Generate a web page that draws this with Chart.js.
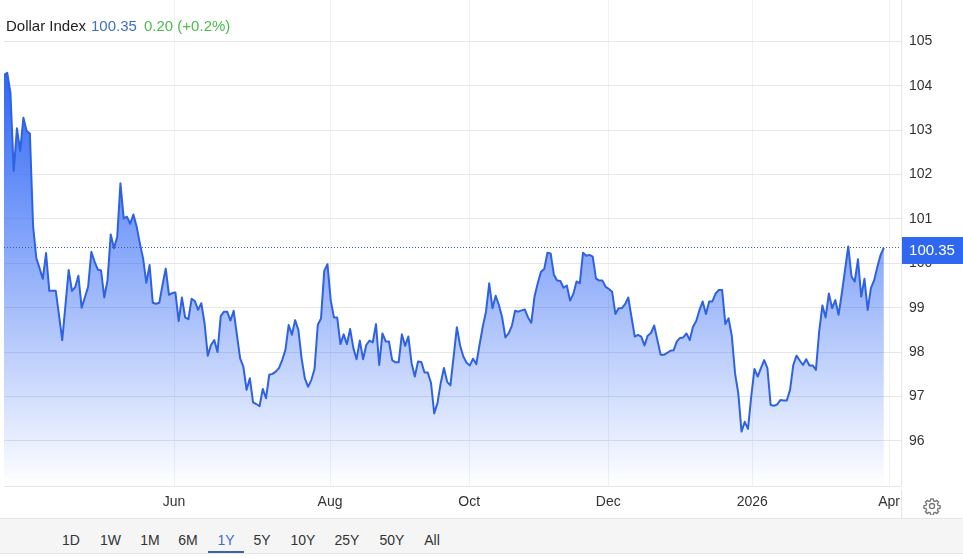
<!DOCTYPE html>
<html><head><meta charset="utf-8">
<script src="https://cdn.jsdelivr.net/npm/chart.js@4/dist/chart.umd.min.js"></script>
<style>
html,body{margin:0;padding:0;background:#fff;width:963px;height:558px;overflow:hidden;font-family:"Liberation Sans",Arial,sans-serif;color:#333}
#c{position:absolute;left:0;top:0}
.h{position:absolute;top:17px;font-size:15px;line-height:18px;white-space:nowrap}
#axisgap{position:absolute;left:901px;top:490px;width:30px;height:28px;background:#fff;border-left:1px solid #e6e6e6}
#bar{position:absolute;left:0;top:518px;width:963px;height:36px;background:#f5f5f5;border-top:1px solid #e6e6e6;border-bottom:1px solid #e6e6e6;box-sizing:border-box}
#bar span{position:absolute;top:12px;font-size:14px;line-height:18px;transform:translateX(-50%);color:#333}
#bar span.on{color:#3f6fc4}
#bar i{position:absolute;left:208px;top:32px;width:36px;height:2px;background:#3b62ad}
#gear{position:absolute;left:923px;top:497px}
</style></head><body>
<canvas id="c" width="963" height="558"></canvas>
<div class="h" style="left:6px;color:#222">Dollar Index</div>
<div class="h" style="left:91px;color:#3f6fc4">100.35</div>
<div class="h" style="left:144px;color:#4cbb4c">0.20 (+0.2%)</div>
<div id="axisgap"></div>
<div id="bar"></div>
<svg id="gear" width="18" height="18" viewBox="0 0 24 24" fill="none" stroke="#777" stroke-width="1.8"><circle cx="12" cy="12" r="3.4"/><path d="M10.3 2.5h3.4l.5 2.8 1.9.8 2.3-1.6 2.4 2.4-1.6 2.3.8 1.9 2.8.5v3.4l-2.8.5-.8 1.9 1.6 2.3-2.4 2.4-2.3-1.6-1.9.8-.5 2.8h-3.4l-.5-2.8-1.9-.8-2.3 1.6-2.4-2.4 1.6-2.3-.8-1.9-2.8-.5v-3.4l2.8-.5.8-1.9-1.6-2.3 2.4-2.4 2.3 1.6 1.9-.8z"/></svg>
<script>
const values = [
104.24,104.29,103.83,102.08,103.04,102.53,103.28,102.98,102.92,100.83,
100.11,99.89,99.65,100.23,99.38,99.38,99.38,98.84,98.27,99.06,
99.85,99.38,99.46,99.72,99.00,99.23,99.47,100.26,100.04,99.86,
99.84,99.23,99.62,100.65,100.34,100.60,101.80,101.01,101.05,100.89,
101.10,100.83,100.45,100.11,99.56,99.96,99.11,99.09,99.11,99.51,
99.88,99.29,99.33,99.34,98.70,99.23,98.78,98.74,99.20,99.15,
98.95,99.10,98.65,97.92,98.16,98.27,98.00,98.81,98.91,98.91,
98.71,98.93,98.39,97.86,97.67,97.15,97.41,96.87,96.83,96.78,
97.17,96.96,97.49,97.51,97.56,97.64,97.82,98.05,98.61,98.39,
98.72,98.50,97.86,97.41,97.22,97.37,97.62,98.61,98.76,99.83,
99.98,99.17,98.78,98.78,98.18,98.40,98.18,98.52,98.09,97.84,
98.26,97.84,98.16,98.26,98.22,98.63,97.71,98.42,98.24,98.24,
97.82,97.77,97.77,98.40,98.14,98.35,97.75,97.45,97.79,97.78,
97.54,97.54,97.31,96.62,96.85,97.30,97.64,97.33,97.25,97.90,
98.56,98.15,97.90,97.76,97.70,97.85,97.73,98.16,98.57,98.91,
99.55,98.99,99.27,99.06,98.78,98.33,98.42,98.59,98.93,98.91,
98.94,98.96,98.78,98.66,99.25,99.55,99.81,99.87,100.24,100.22,
99.74,99.61,99.60,99.45,99.50,99.16,99.31,99.59,99.55,100.24,
100.17,100.19,100.15,99.66,99.61,99.61,99.47,99.42,99.36,98.86,
98.99,98.99,99.08,99.23,98.78,98.35,98.39,98.35,98.15,98.37,
98.43,98.60,98.27,97.94,97.94,97.98,98.03,98.04,98.24,98.32,
98.33,98.42,98.27,98.57,98.70,98.95,99.14,98.86,99.14,99.14,
99.32,99.40,99.40,98.63,98.76,98.36,97.52,97.07,96.21,96.43,
96.27,97.00,97.62,97.45,97.64,97.82,97.64,96.81,96.79,96.82,
96.92,96.91,96.91,97.15,97.71,97.92,97.81,97.71,97.84,97.70,
97.70,97.60,98.46,99.05,98.78,99.32,98.99,99.17,98.84,99.32,
99.85,100.38,99.70,99.59,100.09,99.25,99.65,98.95,99.44,99.62,
99.92,100.19,100.35];
const lastValue = 100.35;
const priceTicks = [96,97,98,99,100,101,102,103,104,105];
const monthLabels = ["Jun","Aug","Oct","Dec","2026","Apr"];
const monthSessions = [52.56,100.8,143.8,186.8,231.3,273.6];
const rangeLabels = ["1D","1W","1M","6M","1Y","5Y","10Y","25Y","50Y","All"];
const rangeCentres = [71,110.5,150,188,226,262,303,347,392,432];
const selectedRange = "1Y";

const bar = document.getElementById('bar');
rangeLabels.forEach((t,i)=>{const s=document.createElement('span');s.textContent=t;s.style.left=rangeCentres[i]+'px';if(t===selectedRange)s.className='on';bar.appendChild(s);});
const u=document.createElement('i');bar.appendChild(u);

const lastPrice = {
  id:'lastPrice',
  afterDraw(chart){
    const {ctx,scales:{y},chartArea:a}=chart;
    const py=Math.round(y.getPixelForValue(lastValue))-0.5;
    ctx.save();
    ctx.strokeStyle='#3d6392';ctx.lineWidth=1;ctx.setLineDash([1,2]);
    ctx.beginPath();ctx.moveTo(a.left,py);ctx.lineTo(a.right,py);ctx.stroke();
    ctx.setLineDash([]);
    ctx.fillStyle='#2f67f0';
    ctx.fillRect(902,py-10.5,61,27);
    ctx.fillStyle='#fff';ctx.font='15px "Liberation Sans",Arial,sans-serif';
    ctx.textAlign='center';ctx.textBaseline='middle';
    ctx.fillText(lastValue.toFixed(2),932,py+3.5);
    ctx.restore();
  }
};
function noPad(s){s.paddingTop=0;s.paddingBottom=0;s.paddingLeft=0;s.paddingRight=0;}

new Chart(document.getElementById('c'),{
  type:'line',
  data:{datasets:[{
    data:values.map((v,i)=>({x:i,y:v})),
    borderColor:'#2f62e2',borderWidth:2,borderJoinStyle:'round',pointRadius:0,tension:0,fill:'start',
    backgroundColor(ctx){
      const a=ctx.chart.chartArea; if(!a) return 'rgba(47,103,245,.5)';
      const g=ctx.chart.ctx.createLinearGradient(0,73,0,a.bottom);
      g.addColorStop(0,'rgba(47,103,245,1)');
      g.addColorStop(1,'rgba(47,103,245,0)');
      return g;
    }
  }]},
  plugins:[lastPrice],
  options:{
    responsive:false,animation:false,devicePixelRatio:1,
    layout:{padding:{left:4,top:0,right:0,bottom:0}},
    plugins:{legend:{display:false},tooltip:{enabled:false},title:{display:false}},
    scales:{
      x:{type:'linear',min:0,max:277.3,
        afterFit(s){s.height=71.5;noPad(s);},
        afterBuildTicks(s){s.ticks=monthSessions.map(v=>({value:v}));},
        grid:{color:'#eef1f5',drawTicks:false},
        border:{display:true,color:'#e6e6e6'},
        ticks:{autoSkip:false,maxRotation:0,padding:7,color:'#333',
          font:{family:'"Liberation Sans",Arial,sans-serif',size:14},
          callback(v,i){return monthLabels[i];}}
      },
      y:{type:'linear',position:'right',min:94.973,max:105.93,
        afterFit(s){s.width=62;noPad(s);},
        afterBuildTicks(s){s.ticks=priceTicks.map(v=>({value:v}));},
        grid:{color:'#e6e6e6',drawTicks:false},
        border:{display:true,color:'#e6e6e6'},
        ticks:{padding:8,color:'#333',
          font:{family:'"Liberation Sans",Arial,sans-serif',size:14},
          callback(v){return String(v);}}
      }
    }
  }
});
</script>
</body></html>
